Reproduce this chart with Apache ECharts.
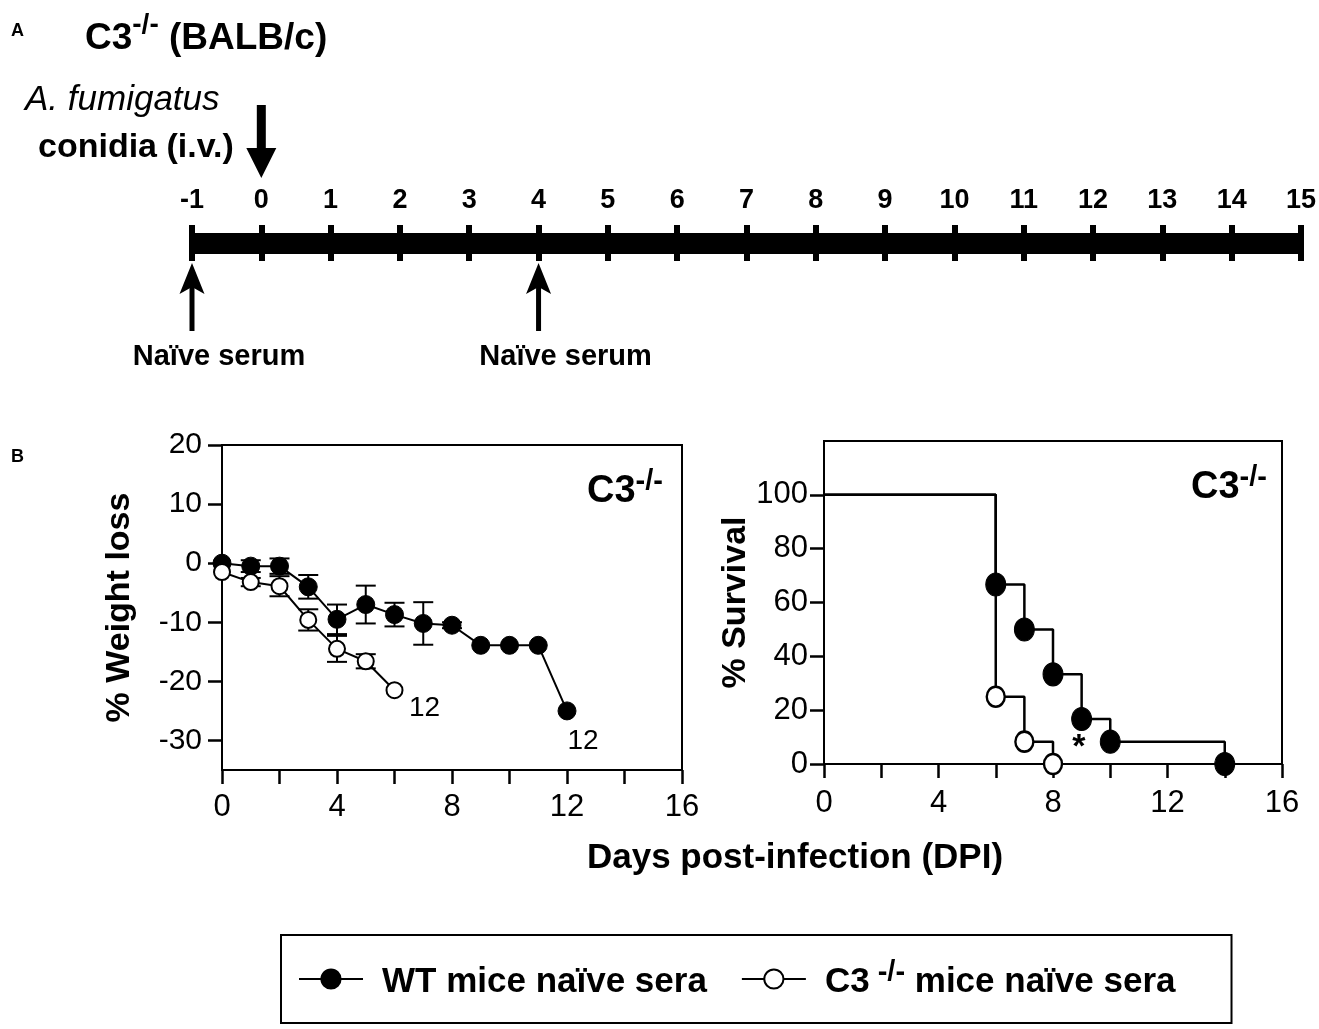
<!DOCTYPE html>
<html>
<head>
<meta charset="utf-8">
<script src="https://cdn.jsdelivr.net/npm/echarts@6/dist/echarts.min.js"></script>
<style>
html,body{margin:0;padding:0;background:#fff;}
#main{width:1319px;height:1029px;}
</style>
</head>
<body>
<div id="main"></div>
<script>
// ---------- data ----------
const weightDays = [0, 1, 2, 3, 4, 5, 6, 7, 8, 9, 10, 11, 12];
const wtWeight = [0, -0.5, -0.5, -4, -9.5, -7, -8.7, -10.2, -10.5, -13.9, -13.9, -13.9, -25];
const wtWeightSem = [0, 1, 1.3, 2, 2.5, 3.2, 2, 3.6, 0.5, 0, 0, 0, 0];
const c3Days = [0, 1, 2, 3, 4, 5, 6];
const c3Weight = [-1.5, -3.2, -3.9, -9.6, -14.5, -16.6, -21.5];
const c3WeightSem = [0, 0.7, 1.7, 1.8, 2.2, 1.2, 0];
const finalN = [12, 12];

const wtSurvDays = [0, 6, 7, 8, 9, 10, 14];
const wtSurv = [100, 66.7, 50, 33.3, 16.7, 8.3, 0];
const c3SurvDays = [0, 6, 7, 8];
const c3Surv = [100, 25, 8.3, 0];

const weightTicks = [-30, -20, -10, 0, 10, 20];
const survTicks = [0, 20, 40, 60, 80, 100];
const dayTicks = [0, 4, 8, 12, 16];

const timelineStart = -1, timelineEnd = 15;
const infectionDay = 0;
const serumDays = [-1, 4];

const wtName = 'WT mice naïve sera';
const c3Name = 'C3-/- mice naïve sera';

// ---------- helpers ----------
const FF = 'Liberation Sans, Arial, Helvetica, sans-serif';
const pairs = (xs, ys) => xs.map((x, i) => [x, ys[i]]);
const triples = (xs, ys, es) => xs.map((x, i) => [x, ys[i], es[i]]);

function errRender(params, api) {
  const x = api.value(0), m = api.value(1), e = api.value(2);
  if (!e) return;
  const t = api.coord([x, m + e]);
  const b = api.coord([x, m - e]);
  const hw = 10;
  const st = { stroke: '#000', lineWidth: 2 };
  return {
    type: 'group',
    children: [
      { type: 'line', shape: { x1: t[0], y1: t[1], x2: b[0], y2: b[1] }, style: st },
      { type: 'line', shape: { x1: t[0] - hw, y1: t[1], x2: t[0] + hw, y2: t[1] }, style: st },
      { type: 'line', shape: { x1: b[0] - hw, y1: b[1], x2: b[0] + hw, y2: b[1] }, style: st }
    ]
  };
}

const axisBlack = { color: '#000', width: 2 };
const supRich = {
  c: { fontFamily: FF, fontSize: 38, fontWeight: 'bold', color: '#000', lineHeight: 44, verticalAlign: 'bottom' },
  s: { fontFamily: FF, fontSize: 29, fontWeight: 'bold', color: '#000', lineHeight: 44, verticalAlign: 'top' }
};

function wtSurvData() {
  return pairs(wtSurvDays, wtSurv).map((p, i) => i === 0 ? { value: p, symbol: 'none' } : p);
}
function c3SurvData() {
  return pairs(c3SurvDays, c3Surv).map((p, i) => i === 0 ? { value: p, symbol: 'none' } : p);
}
function lastLabel(data, n, offset) {
  return data.map((p, i) => i === data.length - 1 ? {
    value: p,
    label: { show: true, formatter: String(n), position: 'inside', offset: offset,
             fontFamily: FF, fontSize: 28, color: '#000' }
  } : p);
}

const chart = echarts.init(document.getElementById('main'), null, { renderer: 'canvas' });

const option = {
  backgroundColor: '#fff',
  animation: false,
  title: [
    { text: 'A', left: 6, top: 17, textStyle: { fontFamily: FF, fontSize: 18, fontWeight: 'bold', color: '#000' } },
    { text: 'B', left: 6, top: 443, textStyle: { fontFamily: FF, fontSize: 18, fontWeight: 'bold', color: '#000' } },
    { text: '{c|C3}{s|-/-}{c| (BALB/c)}', left: 80, top: 6,
      textStyle: { rich: {
        c: { fontFamily: FF, fontSize: 37, fontWeight: 'bold', color: '#000', lineHeight: 46, verticalAlign: 'bottom' },
        s: { fontFamily: FF, fontSize: 28, fontWeight: 'bold', color: '#000', lineHeight: 46, verticalAlign: 'top' } } } },
    { text: '{c|C3}{s|-/-}', left: 582, top: 462, textStyle: { rich: supRich } },
    { text: '{c|C3}{s|-/-}', left: 1186, top: 458, textStyle: { rich: supRich } }
  ],
  legend: {
    data: [wtName, c3Name],
    left: 281, top: 935,
    orient: 'horizontal',
    borderColor: '#000', borderWidth: 2, borderRadius: 0,
    padding: [23, 56, 23, 17],
    itemWidth: 64, itemHeight: 24, itemGap: 34,
    formatter: function (name) {
      return name === c3Name ? '{b|C3}{s| -/-}{b| mice naïve sera}' : '{b|' + name + '}';
    },
    textStyle: {
      padding: [0, 0, 0, 14],
      rich: {
        b: { fontFamily: FF, fontSize: 35, fontWeight: 'bold', color: '#000', lineHeight: 42, verticalAlign: 'bottom' },
        s: { fontFamily: FF, fontSize: 29, fontWeight: 'bold', color: '#000', lineHeight: 42, verticalAlign: 'top' }
      }
    }
  },
  grid: [
    { left: 222, top: 445, width: 460, height: 325, show: true, borderColor: '#000', borderWidth: 2, containLabel: false },
    { left: 824, top: 441, width: 458, height: 323, show: true, borderColor: '#000', borderWidth: 2, containLabel: false },
    { left: 192, top: 225, width: 1111, height: 36, show: false, containLabel: false }
  ],
  xAxis: [
    { type: 'value', gridIndex: 0, min: 0, max: 16, interval: 2,
      axisLine: { onZero: false, lineStyle: axisBlack },
      axisTick: { length: 14, lineStyle: { color: '#000', width: 2.5 } },
      axisLabel: { margin: 22, fontFamily: FF, fontSize: 31, color: '#000',
                   formatter: v => dayTicks.includes(v) ? String(v) : '' },
      splitLine: { show: false } },
    { type: 'value', gridIndex: 1, min: 0, max: 16, interval: 2,
      axisLine: { onZero: false, lineStyle: axisBlack },
      axisTick: { length: 14, lineStyle: { color: '#000', width: 2.5 } },
      axisLabel: { margin: 24, fontFamily: FF, fontSize: 31, color: '#000',
                   formatter: v => dayTicks.includes(v) ? String(v) : '' },
      splitLine: { show: false } },
    // timeline: labels on top, tick marks as split lines across the bar
    { type: 'value', gridIndex: 2, position: 'top', min: timelineStart, max: timelineEnd, interval: 1,
      axisLine: { show: false },
      axisTick: { show: false },
      axisLabel: { margin: 11, fontFamily: FF, fontSize: 27, fontWeight: 'bold', color: '#000' },
      splitLine: { show: true, showMinLine: true, showMaxLine: true, lineStyle: { color: '#000', width: 6 } } },
    // timeline bar: a thick axis line through the middle of the grid
    { type: 'value', gridIndex: 2, position: 'bottom', offset: -18, min: timelineStart, max: timelineEnd, interval: 1,
      axisLine: { show: true, onZero: false, lineStyle: { color: '#000', width: 21, cap: 'butt' } },
      axisTick: { show: false },
      axisLabel: { show: false },
      splitLine: { show: false } }
  ],
  yAxis: [
    { type: 'value', gridIndex: 0, min: -35, max: 20,
      name: '% Weight loss', nameLocation: 'middle', nameGap: 85,
      nameTextStyle: { fontFamily: FF, fontSize: 34, fontWeight: 'bold', color: '#000' },
      axisLine: { onZero: false, lineStyle: axisBlack },
      axisTick: { length: 14, lineStyle: { color: '#000', width: 2.5 }, customValues: weightTicks },
      axisLabel: { margin: 20, fontFamily: FF, fontSize: 30, color: '#000', customValues: weightTicks },
      splitLine: { show: false } },
    { type: 'value', gridIndex: 1, min: 0, max: 120,
      name: '% Survival', nameLocation: 'middle', nameGap: 66,
      nameTextStyle: { fontFamily: FF, fontSize: 34, fontWeight: 'bold', color: '#000' },
      axisLine: { onZero: false, lineStyle: axisBlack },
      axisTick: { length: 14, lineStyle: { color: '#000', width: 2.5 }, customValues: survTicks },
      axisLabel: { margin: 16, fontFamily: FF, fontSize: 31, color: '#000', customValues: survTicks },
      splitLine: { show: false } },
    { type: 'value', gridIndex: 2, min: 0, max: 1, show: false }
  ],
  series: [
    { name: 'WT error', type: 'custom', xAxisIndex: 0, yAxisIndex: 0, z: 1,
      renderItem: errRender, encode: { x: 0, y: 1 },
      data: triples(weightDays, wtWeight, wtWeightSem) },
    { name: 'C3 error', type: 'custom', xAxisIndex: 0, yAxisIndex: 0, z: 1,
      renderItem: errRender, encode: { x: 0, y: 1 },
      data: triples(c3Days, c3Weight, c3WeightSem) },
    { name: wtName, type: 'line', xAxisIndex: 0, yAxisIndex: 0, z: 3,
      symbol: 'circle', symbolSize: 18, showAllSymbol: true,
      itemStyle: { color: '#000', borderColor: '#000', borderWidth: 1 },
      lineStyle: { color: '#000', width: 2 },
      data: lastLabel(pairs(weightDays, wtWeight), finalN[0], [16, 30]) },
    { name: c3Name, type: 'line', xAxisIndex: 0, yAxisIndex: 0, z: 4,
      symbol: 'circle', symbolSize: 16, showAllSymbol: true,
      itemStyle: { color: '#fff', borderColor: '#000', borderWidth: 2 },
      lineStyle: { color: '#000', width: 2 },
      data: lastLabel(pairs(c3Days, c3Weight), finalN[1], [30, 18]) },
    { name: wtName, type: 'line', xAxisIndex: 1, yAxisIndex: 1, z: 3, step: 'end', clip: false,
      symbol: 'circle', symbolSize: [20, 23], showAllSymbol: true,
      itemStyle: { color: '#000', borderColor: '#000', borderWidth: 1 },
      lineStyle: { color: '#000', width: 2.5 },
      data: wtSurvData(),
      markPoint: { symbol: 'circle', symbolSize: 0, silent: true,
        data: [{ coord: [8.9, 6], value: '*',
          label: { show: true, formatter: '*', fontFamily: FF, fontSize: 34, fontWeight: 'bold', color: '#000', position: 'inside' } }] } },
    { name: c3Name, type: 'line', xAxisIndex: 1, yAxisIndex: 1, z: 4, step: 'end', clip: false,
      symbol: 'circle', symbolSize: [18, 20], showAllSymbol: true,
      itemStyle: { color: '#fff', borderColor: '#000', borderWidth: 2.5 },
      lineStyle: { color: '#000', width: 2.5 },
      data: c3SurvData() }
  ]
};

chart.setOption(option);

// ---------- annotations positioned through the timeline axis ----------
const px = d => chart.convertToPixel({ xAxisIndex: 2 }, d);
const graphics = [
  { type: 'text', style: { x: 25, y: 100, text: 'A. fumigatus', font: 'italic 35px ' + FF, fill: '#000', textVerticalAlign: 'middle' } },
  { type: 'text', style: { x: 38, y: 148, text: 'conidia (i.v.)', font: 'bold 34px ' + FF, fill: '#000', textVerticalAlign: 'middle' } },
  { type: 'text', style: { x: 795, y: 858, text: 'Days post-infection (DPI)', font: 'bold 35px ' + FF, fill: '#000', textAlign: 'center', textVerticalAlign: 'middle' } }
];
const x0 = px(infectionDay);
graphics.push({ type: 'rect', shape: { x: x0 - 4.5, y: 105, width: 9, height: 45 }, style: { fill: '#000' } });
graphics.push({ type: 'polygon', shape: { points: [[x0 - 15, 148], [x0 + 15, 148], [x0, 178]] }, style: { fill: '#000' } });
serumDays.forEach(d => {
  const xs = px(d);
  graphics.push({ type: 'rect', shape: { x: xs - 2.5, y: 285, width: 5, height: 46 }, style: { fill: '#000' } });
  graphics.push({ type: 'polygon', shape: { points: [[xs, 263], [xs + 12.5, 294], [xs, 287], [xs - 12.5, 294]] }, style: { fill: '#000' } });
  graphics.push({ type: 'text', style: { x: xs + 27, y: 357, text: 'Naïve serum', font: 'bold 29px ' + FF, fill: '#000', textAlign: 'center', textVerticalAlign: 'middle' } });
});
chart.setOption({ graphic: graphics });
</script>
</body>
</html>
